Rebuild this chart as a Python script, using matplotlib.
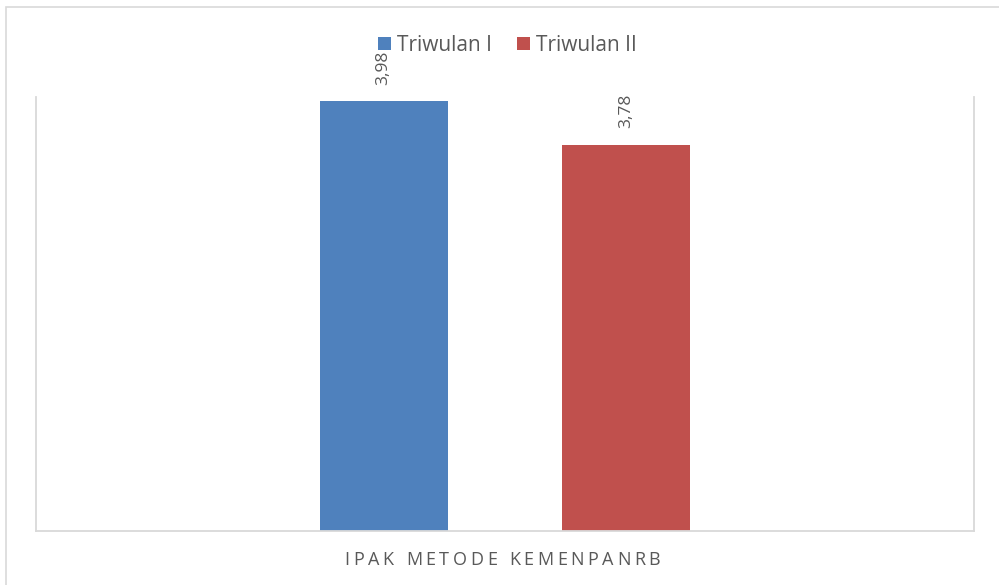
import matplotlib
matplotlib.use("Agg")
import matplotlib.pyplot as plt
from matplotlib.patches import Rectangle

categories = ["IPAK METODE KEMENPANRB"]
series_names = ["Triwulan I", "Triwulan II"]
values_t1 = [3.98]
values_t2 = [3.78]
label_t1 = ["3,98"]
label_t2 = ["3,78"]

BLUE = "#4F81BD"
RED = "#C0504D"
GRAY = "#595959"
GRID = "#D9D9D9"
FONT = ["Open Sans", "DejaVu Sans"]

W, H = 999, 585
fig = plt.figure(figsize=(W / 100, H / 100), dpi=100)
fig.patch.set_facecolor("white")

# outer frame (extends beyond right/bottom edges as in reference)
fig.patches.append(Rectangle((6 / W, -0.1), 1.2, 1 - 7 / H + 0.1,
                             transform=fig.transFigure, fill=False,
                             edgecolor=GRID, linewidth=1.2))

ax = fig.add_axes([36 / W, (H - 530.5) / H, (974 - 36) / W, (530.5 - 97) / H])
x = [0]
bw = 0.1365
off = 0.1295
b1 = ax.bar([xi - off for xi in x], values_t1, width=bw, color=BLUE, label=series_names[0], bottom=0)
b2 = ax.bar([xi + off for xi in x], values_t2, width=bw, color=RED, label=series_names[1], bottom=0)
ax.set_xlim(-0.5, 0.5)
ax.set_ylim(2, 4)

for bars, labs in ((b1, label_t1), (b2, label_t2)):
    for rect, lab in zip(bars, labs):
        ax.annotate(lab, (rect.get_x() + rect.get_width() / 2, rect.get_height()),
                    xytext=(0, 12), textcoords="offset points", rotation=90,
                    ha="center", va="bottom", color=GRAY, fontsize=12.5, family=FONT)

ax.spines["top"].set_visible(False)
for s in ("left", "right", "bottom"):
    ax.spines[s].set_color(GRID)
    ax.spines[s].set_linewidth(1.3)
ax.set_xticks([])
ax.set_yticks([])

leg = fig.legend(handles=[b1, b2], labels=series_names, loc="center",
                 bbox_to_anchor=(507.5 / W, 1 - 45.5 / H), ncol=2, frameon=False,
                 prop={"family": FONT, "size": 15}, labelcolor=GRAY,
                 handlelength=0.62, handleheight=0.62, handletextpad=0.3,
                 columnspacing=1.2, borderaxespad=0, borderpad=0)

# letter-spaced category label
label = categories[0]
fig.canvas.draw()
renderer = fig.canvas.get_renderer()
fs = 13
extra = 3.6
widths = []
for ch in label:
    if ch == " ":
        t = fig.text(0, 0, "n", fontsize=fs, family=FONT)
        w = t.get_window_extent(renderer).width * 0.45
    else:
        t = fig.text(0, 0, ch, fontsize=fs, family=FONT)
        w = t.get_window_extent(renderer).width
    t.remove()
    widths.append(w)
total = sum(widths) + extra * (len(label) - 1)
cx = 502.5
xpos = cx - total / 2
for ch, w in zip(label, widths):
    if ch != " ":
        fig.text(xpos / W, 1 - 565 / H, ch, fontsize=fs, family=FONT, color=GRAY,
                 ha="left", va="baseline")
    xpos += w + extra

fig.savefig("out.png", dpi=100, facecolor="white")
